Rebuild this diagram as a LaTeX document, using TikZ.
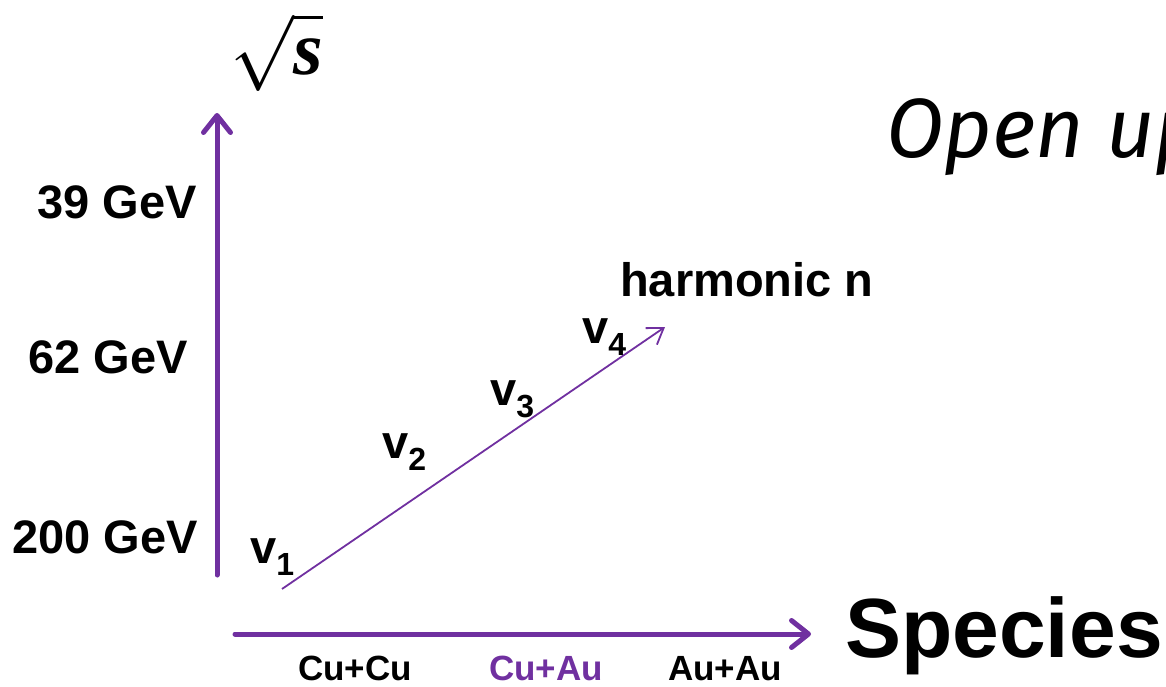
\documentclass[tikz,border=0pt]{standalone}
\usepackage{amsmath}
\usepackage{graphicx}
\usepackage{fontspec}
\setmainfont{Liberation Sans}
\newfontfamily\handfont{Fira Sans}
\newfontfamily\rootfont{Liberation Serif}
\usetikzlibrary{arrows.meta}
\definecolor{AxisPurple}{HTML}{7030A0}
\newcommand{\harmV}[1]{v\raisebox{-12pt}{\fontsize{32}{32}\selectfont #1}}

\begin{document}
\begin{tikzpicture}[x=1pt,y=-1pt,
  axisline/.style={AxisPurple,line width=5pt,line cap=round,
    -{Straight Barb[length=17pt,width=27pt,round]}},
  harmline/.style={AxisPurple,line width=1.8pt,
    -{Straight Barb[length=15pt,width=20pt]}},
  gev/.style={anchor=base east,inner sep=0pt,
    font=\fontsize{47}{47}\selectfont\bfseries},
  vlab/.style={anchor=base west,inner sep=0pt,
    font=\fontsize{47}{47}\selectfont\bfseries},
  spc/.style={anchor=base,inner sep=0pt,
    font=\fontsize{35}{35}\selectfont\bfseries}]
  \useasboundingbox (0,0) rectangle (1166,687);
  \clip (0,0) rectangle (1166,687);
  % axes
  \coordinate (Ebot) at (217,575);
  \coordinate (Etop) at (217,113);
  \coordinate (Sleft) at (235,634);
  \coordinate (Sright) at (811,634);
  \draw[axisline] (Ebot) -- (Etop);
  \draw[axisline] (Sleft) -- (Sright);
  % harmonic direction
  \coordinate (Hstart) at (282,589);
  \coordinate (Hend) at (665,327);
  \draw[harmline] (Hstart) -- (Hend);
  % labels
  \node[inner sep=0pt] (rts) at (277,52)
    {\scalebox{7.6}{$\sqrt{\text{\rootfont\bfseries\itshape s}}$}};
  \node[gev] (E39) at (197,218) {39 GeV};
  \node[gev] (E62) at (188,373) {62 GeV};
  \node[gev] (E200) at (198,553) {200 GeV};
  \node[vlab] (v1) at (250,563) {\harmV{1}};
  \node[vlab] (v2) at (382,458) {\harmV{2}};
  \node[vlab] (v3) at (490,405) {\harmV{3}};
  \node[vlab] (v4) at (582,343) {\harmV{4}};
  \node[vlab] (harm) at (620,296) {harmonic n};
  \node[spc] (CuCu) at (355,680) {Cu+Cu};
  \node[spc,text=AxisPurple] (CuAu) at (546,680) {Cu+Au};
  \node[spc] (AuAu) at (725,680) {Au+Au};
  \node[anchor=base west,inner sep=0pt,
    font=\fontsize{84}{84}\selectfont\bfseries] (species) at (845,657) {Species};
  \node[anchor=base west,inner sep=0pt,
    font=\handfont\itshape\fontsize{84}{84}\selectfont] (openup) at (886,158) {Open up};
\end{tikzpicture}
\end{document}
